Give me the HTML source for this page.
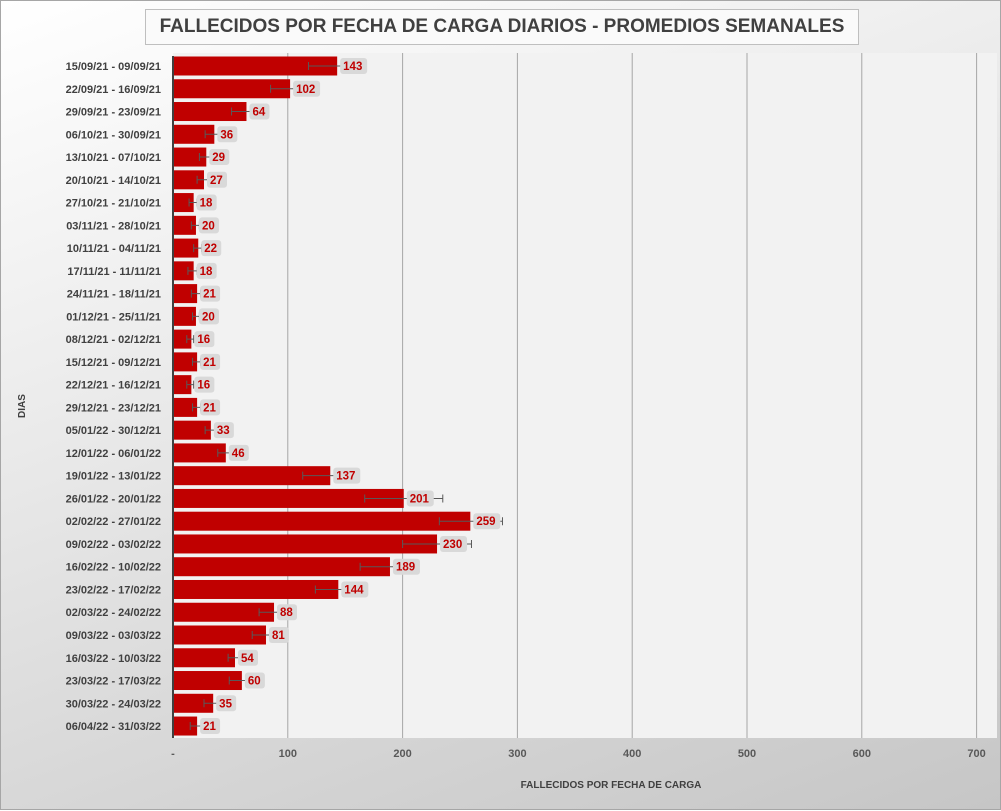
<!DOCTYPE html>
<html><head><meta charset="utf-8"><style>
body{margin:0;width:1001px;height:810px;overflow:hidden;font-family:"Liberation Sans",sans-serif}
#wrap{position:absolute;left:0;top:0;width:999px;height:808px;border:1px solid #a6a6a6;background:linear-gradient(160deg,#ffffff 0%,#ececec 35%,#d4d4d4 75%,#c6c6c6 100%)}
#title{position:absolute;left:144px;top:8px;width:712px;height:34px;border:1px solid #bfbfbf;background:#fafafa;font-weight:bold;font-size:19px;color:#404040;text-align:center;line-height:34px;white-space:nowrap}
</style></head><body>
<div id="wrap">
<div id="title">FALLECIDOS POR FECHA DE CARGA DIARIOS - PROMEDIOS SEMANALES</div>
<svg id="chart" width="1001" height="810" style="position:absolute;left:0;top:0"></svg>
</div>
<script>
const categories=["15/09/21 - 09/09/21","22/09/21 - 16/09/21","29/09/21 - 23/09/21","06/10/21 - 30/09/21","13/10/21 - 07/10/21","20/10/21 - 14/10/21","27/10/21 - 21/10/21","03/11/21 - 28/10/21","10/11/21 - 04/11/21","17/11/21 - 11/11/21","24/11/21 - 18/11/21","01/12/21 - 25/11/21","08/12/21 - 02/12/21","15/12/21 - 09/12/21","22/12/21 - 16/12/21","29/12/21 - 23/12/21","05/01/22 - 30/12/21","12/01/22 - 06/01/22","19/01/22 - 13/01/22","26/01/22 - 20/01/22","02/02/22 - 27/01/22","09/02/22 - 03/02/22","16/02/22 - 10/02/22","23/02/22 - 17/02/22","02/03/22 - 24/02/22","09/03/22 - 03/03/22","16/03/22 - 10/03/22","23/03/22 - 17/03/22","30/03/22 - 24/03/22","06/04/22 - 31/03/22"];
const values=[143,102,64,36,29,27,18,20,22,18,21,20,16,21,16,21,33,46,137,201,259,230,189,144,88,81,54,60,35,21];
const errLow=[118,85,51,28,23,21,14,16,18,13,16,17,12,17,12,17,28,39,113,167,232,200,163,124,75,69,48,49,27,15];
const errHigh=[168,115,75,42,33,31,21,23,25,21,24,23,18,24,18,24,37,52,160,235,287,260,214,160,100,92,60,70,42,26];
const ticks=[0,100,200,300,400,500,600,700];
const tickLabels=["-","100","200","300","400","500","600","700"];
const NS="http://www.w3.org/2000/svg",svg=document.getElementById('chart');
const X0=172,PX=1.148,TOP=52,BOT=737,STEP=22.76,BH=19;
const x=v=>X0+v*PX, yc=i=>65+i*STEP;
function mk(t,a,p){const e=document.createElementNS(NS,t);for(const k in a)e.setAttribute(k,a[k]);(p||svg).appendChild(e);return e;}
const plot=mk('rect',{x:X0,y:TOP,width:976-X0+20,height:BOT-TOP,fill:'#f2f2f2'});


ticks.forEach((t,i)=>{
  if(t>0){const g=mk('line',{x1:x(t),x2:x(t),y1:TOP,y2:BOT,stroke:'#a6a6a6','stroke-width':1});
  
  }
  const l=mk('text',{x:x(t),y:756,'text-anchor':'middle','font-size':11,'font-weight':'bold',fill:'#595959'});
  l.textContent=tickLabels[i];
  
  
});
categories.forEach((c,i)=>{
  const cy=yc(i);
  const b=mk('rect',{x:X0,y:cy-BH/2,width:values[i]*PX,height:BH,fill:'#c00000'});
  
  
  const e=mk('path',{d:`M${x(errLow[i])} ${cy-4}V${cy+4}M${x(errLow[i])} ${cy}H${x(errHigh[i])}M${x(errHigh[i])} ${cy-4}V${cy+4}`,stroke:'#595959','stroke-width':1,fill:'none'});
  
  
  const txt=String(values[i]);const w=txt.length*7+6;
  const lb=mk('rect',{x:x(values[i])+3,y:cy-8,width:w,height:16,rx:3,fill:'#d9d9d9'});
  
  
  const lt=mk('text',{x:x(values[i])+6,y:cy+4,'font-size':11.5,'font-weight':'bold',fill:'#c00000'});
  lt.textContent=txt;
  
  
  const ct=mk('text',{x:160,y:cy+4,'text-anchor':'end','font-size':11,'font-weight':'bold',fill:'#404040'});
  ct.textContent=c;
  
  
});
const ax=mk('line',{x1:X0,x2:X0,y1:TOP+3,y2:BOT,stroke:'#404040','stroke-width':2});


const xt=mk('text',{x:610,y:787,'text-anchor':'middle','font-size':10,'font-weight':'bold',fill:'#404040'});
xt.textContent='FALLECIDOS POR FECHA DE CARGA';


const yt=mk('text',{x:0,y:0,transform:'translate(24,405) rotate(-90)','text-anchor':'middle','font-size':10,'font-weight':'bold',fill:'#404040'});
yt.textContent='DIAS';


</script>
</body></html>
